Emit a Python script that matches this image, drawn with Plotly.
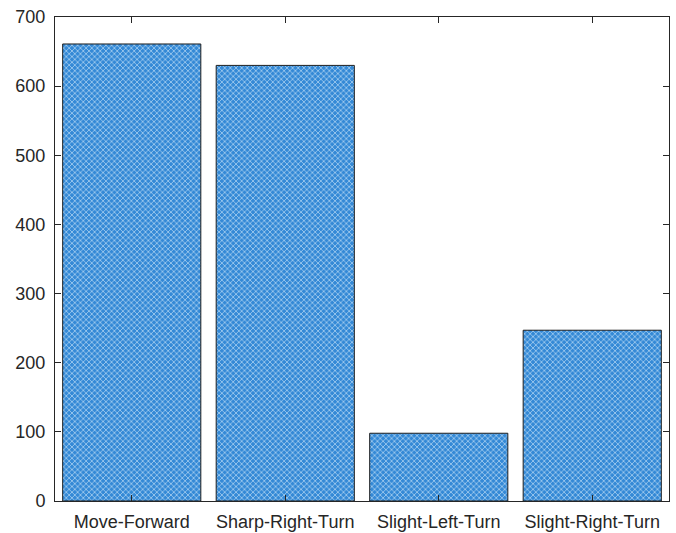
import plotly.graph_objects as go

categories = ["Move-Forward", "Sharp-Right-Turn", "Slight-Left-Turn", "Slight-Right-Turn"]
counts = [661, 630, 98, 247]
y_ticks = [0, 100, 200, 300, 400, 500, 600, 700]

fig = go.Figure()
fig.add_trace(go.Bar(
    x=list(range(len(categories))),
    y=counts,
    marker=dict(
        color="#3a8dd8",
        line=dict(color="#1f1f1f", width=1),
        pattern=dict(shape="x", fgcolor="#c4e0f7", bgcolor="#3489d6",
                     size=4, solidity=0.3, fillmode="replace"),
    ),
    width=0.9,
    hoverinfo="skip",
))

axis_common = dict(
    showline=True, linecolor="#262626", linewidth=1, mirror="ticks",
    ticks="inside", ticklen=6, tickcolor="#262626",
    showgrid=False, zeroline=False,
    tickfont=dict(family="Liberation Sans, Arial, sans-serif", size=18, color="#262626"),
)

fig.update_xaxes(
    range=[-0.5, 3.5], tickvals=list(range(len(categories))), ticktext=categories,
    ticklabelstandoff=4,
    **axis_common,
)
fig.update_yaxes(range=[0, 700], tickvals=y_ticks, ticklabelstandoff=5, **axis_common)

fig.update_layout(
    width=676, height=533,
    margin=dict(l=55, r=7, t=17, b=32, autoexpand=False),
    plot_bgcolor="white", paper_bgcolor="white",
    showlegend=False,
)

fig.write_html("out.html")
